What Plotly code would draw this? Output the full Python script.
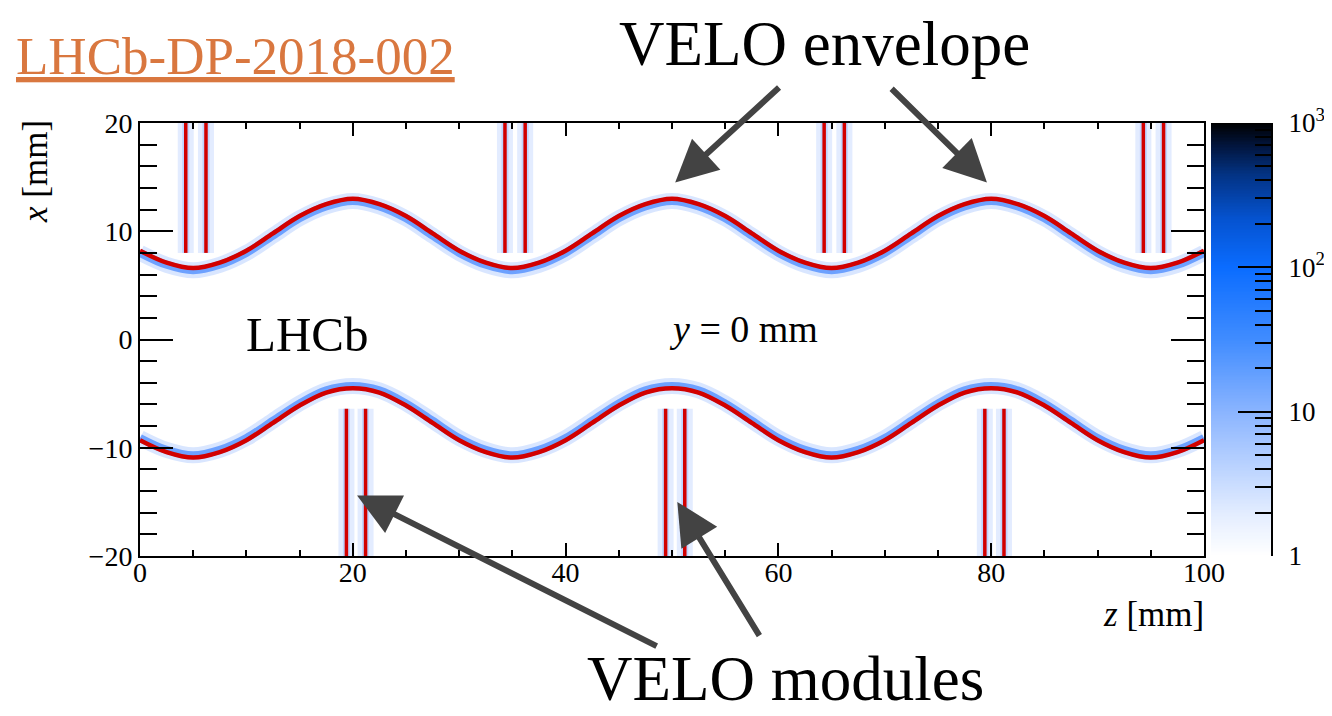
import numpy as np
import plotly.graph_objects as go

# ---------------- data ----------------
z_env = [0, 2.5, 5, 7.5, 10, 12.5, 15, 17.5, 20, 22.5, 25, 27.5,
         30, 32.5, 35, 37.5, 40, 42.5, 45, 47.5, 50, 52.5, 55, 57.5,
         60, 62.5, 65, 67.5, 70, 72.5, 75, 77.5, 80, 82.5, 85, 87.5,
         90, 92.5, 95, 97.5, 100]
x_upper = [8.2, 7.1, 6.6, 7.1, 8.2, 9.8, 11.4, 12.5, 13.0, 12.5, 11.4, 9.8,
           8.2, 7.1, 6.6, 7.1, 8.2, 9.8, 11.4, 12.5, 13.0, 12.5, 11.4, 9.8,
           8.2, 7.1, 6.6, 7.1, 8.2, 9.8, 11.4, 12.5, 13.0, 12.5, 11.4, 9.8,
           8.2, 7.1, 6.6, 7.1, 8.2]
x_lower = [-9.3, -10.4, -10.9, -10.4, -9.3, -7.7, -6.1, -4.9, -4.5, -4.9, -6.1, -7.7,
           -9.3, -10.4, -10.9, -10.4, -9.3, -7.7, -6.1, -4.9, -4.5, -4.9, -6.1, -7.7,
           -9.3, -10.4, -10.9, -10.4, -9.3, -7.7, -6.1, -4.9, -4.5, -4.9, -6.1, -7.7,
           -9.3, -10.4, -10.9, -10.4, -9.3]

upper_module_z = [4.3, 6.2, 34.3, 36.2, 64.3, 66.2, 94.3, 96.2]
upper_module_x = [8.0, 20.0]
lower_module_z = [19.4, 21.2, 49.4, 51.2, 79.4, 81.2]
lower_module_x = [-6.4, -20.0]

cbar_tickvals = [0, 1, 2, 3]
cbar_ticktext = ["1", "10", "10<sup>2</sup>", "10<sup>3</sup>"]

# ---------------- layout helpers ----------------
# the page body has an 8 px margin, so the figure is drawn 8 px in from the window corner
OFF = 8
FIG_W, FIG_H = 1332 - OFF, 716 - OFF
L = 140 - OFF
T = 123 - OFF
R = FIG_W - (1271 - OFF)
B = FIG_H - (556 - OFF)
PW = FIG_W - L - R
PH = FIG_H - T - B


def px(x):  # screen pixel -> paper
    return (x - OFF - L) / PW


def py(y):
    return (FIG_H - B - (y - OFF)) / PH


SERIF = "Liberation Serif"


def seg_lines(zs, xr):
    xs, ys = [], []
    for z in zs:
        xs += [z, z, None]
        ys += [xr[0], xr[1], None]
    return xs, ys


fig = go.Figure()

# halos around envelope (shifted slightly toward beam)
up_shift = [v - 0.2 for v in x_upper]
lo_shift = [v + 0.2 for v in x_lower]
for ys in (up_shift, lo_shift):
    fig.add_trace(go.Scatter(x=z_env, y=ys, mode="lines", line=dict(color="rgba(170,200,255,0.45)", width=16, shape="spline"),
                             hoverinfo="skip", showlegend=False))
    fig.add_trace(go.Scatter(x=z_env, y=ys, mode="lines", line=dict(color="rgba(50,125,255,0.65)", width=8, shape="spline"),
                             hoverinfo="skip", showlegend=False))

# halos around modules
for zs, xr in ((upper_module_z, upper_module_x), (lower_module_z, lower_module_x)):
    mx, my = seg_lines(zs, xr)
    fig.add_trace(go.Scatter(x=mx, y=my, mode="lines", line=dict(color="rgba(175,200,255,0.35)", width=16),
                             hoverinfo="skip", showlegend=False))
    fig.add_trace(go.Scatter(x=mx, y=my, mode="lines", line=dict(color="rgba(110,160,255,0.3)", width=7),
                             hoverinfo="skip", showlegend=False))

RED = "#d20000"
for ys in (x_upper, x_lower):
    fig.add_trace(go.Scatter(x=z_env, y=ys, mode="lines", line=dict(color=RED, width=4.5, shape="spline"),
                             hoverinfo="skip", showlegend=False))
for zs, xr in ((upper_module_z, upper_module_x), (lower_module_z, lower_module_x)):
    mx, my = seg_lines(zs, xr)
    fig.add_trace(go.Scatter(x=mx, y=my, mode="lines", line=dict(color=RED, width=3.5),
                             hoverinfo="skip", showlegend=False))

# colour bar as its own axis pair
colorscale = [[0.0, "#ffffff"], [0.1, "#e2ecff"], [0.333, "#8ab4ff"], [0.5, "#408cff"],
              [0.667, "#0a6cff"], [0.78, "#0552cf"], [0.88, "#033384"], [0.95, "#02143a"],
              [1.0, "#000000"]]
grad = np.linspace(0, 3, 301)
fig.add_trace(go.Heatmap(x=[0, 1], y=grad, z=[[g, g] for g in grad], colorscale=colorscale,
                         zmin=0, zmax=3, showscale=False, xaxis="x2", yaxis="y2", hoverinfo="skip"))

minor_vals = []
for d in range(3):
    for k in range(2, 10):
        minor_vals.append(d + np.log10(k))

axis_common = dict(showline=True, linecolor="black", linewidth=2, showgrid=False, zeroline=False,
                   ticks="inside", tickcolor="black", tickwidth=2, automargin=False,
                   tickfont=dict(family=SERIF, size=28, color="black"), mirror="allticks")

fig.update_layout(
    width=FIG_W, height=FIG_H,
    margin=dict(l=L, r=R, t=T, b=B, autoexpand=False),
    paper_bgcolor="white", plot_bgcolor="white",
    xaxis=dict(domain=[0, px(1204)], range=[0, 100], dtick=20, tick0=0, ticklen=13,
               minor=dict(dtick=5, ticklen=6, ticks="inside", tickcolor="black", tickwidth=2),
               ticklabelstandoff=-10, **axis_common),
    yaxis=dict(domain=[0, 1], range=[-20, 20], dtick=10, tick0=0, ticklen=33,
               minor=dict(dtick=2, ticklen=17, ticks="inside", tickcolor="black", tickwidth=2),
               ticklabelstandoff=0, **axis_common),
    xaxis2=dict(domain=[px(1211), 1.0], range=[0, 1], visible=False, anchor="y2", automargin=False),
    yaxis2=dict(domain=[0, 1], range=[0, 3], anchor="x2", side="right", showline=True, linecolor="black",
                linewidth=2, showgrid=False, zeroline=False, ticks="inside", ticklen=33, tickwidth=2,
                tickcolor="black", tickvals=cbar_tickvals, ticktext=cbar_ticktext, automargin=False,
                tickfont=dict(family=SERIF, size=27, color="black"), ticklabelstandoff=10,
                minor=dict(tickmode="array", tickvals=minor_vals, ticks="inside", ticklen=16,
                           tickwidth=2, tickcolor="black")),
)

ann = []
ann.append(dict(text="<u>LHCb-DP-2018-002</u>", x=px(14), y=py(56), xref="paper", yref="paper",
                xanchor="left", yanchor="middle", showarrow=False,
                font=dict(family=SERIF, size=53, color="#d9773f")))
ann.append(dict(text="VELO envelope", x=px(824), y=py(44), xref="paper", yref="paper",
                xanchor="center", yanchor="middle", showarrow=False,
                font=dict(family=SERIF, size=63, color="black")))
ann.append(dict(text="VELO modules", x=px(785), y=py(679), xref="paper", yref="paper",
                xanchor="center", yanchor="middle", showarrow=False,
                font=dict(family=SERIF, size=63, color="black")))
ann.append(dict(text="LHCb", x=px(244), y=py(334), xref="paper", yref="paper",
                xanchor="left", yanchor="middle", showarrow=False,
                font=dict(family=SERIF, size=49, color="black")))
ann.append(dict(text="<i>y</i> = 0 mm", x=px(667), y=py(329), xref="paper", yref="paper",
                xanchor="left", yanchor="middle", showarrow=False,
                font=dict(family=SERIF, size=38, color="black")))
ann.append(dict(text="<i>z</i> [mm]", x=px(1206), y=py(614), xref="paper", yref="paper",
                xanchor="right", yanchor="middle", showarrow=False,
                font=dict(family=SERIF, size=35, color="black")))
ann.append(dict(text="<i>x</i> [mm]", x=px(36), y=py(172), xref="paper", yref="paper",
                xanchor="center", yanchor="middle", showarrow=False, textangle=-90,
                font=dict(family=SERIF, size=35, color="black")))

# arrows: (tail z, tail x, tip z, tip x) in data coordinates
arrows = [(60.2, 23.4, 50.3, 14.5), (70.5, 23.3, 79.6, 14.5),
          (48.7, -28.4, 20.4, -14.4), (58.3, -27.5, 50.5, -15.0)]
for az, ax_, tz, tx in arrows:
    ann.append(dict(text="", x=tz, y=tx, xref="x", yref="y", ax=az, ay=ax_, axref="x", ayref="y",
                    showarrow=True, arrowhead=2, arrowsize=1.4, arrowwidth=6, arrowcolor="#434343",
                    standoff=0, startstandoff=0))
fig.update_layout(annotations=ann)

fig.write_html("out.html")
